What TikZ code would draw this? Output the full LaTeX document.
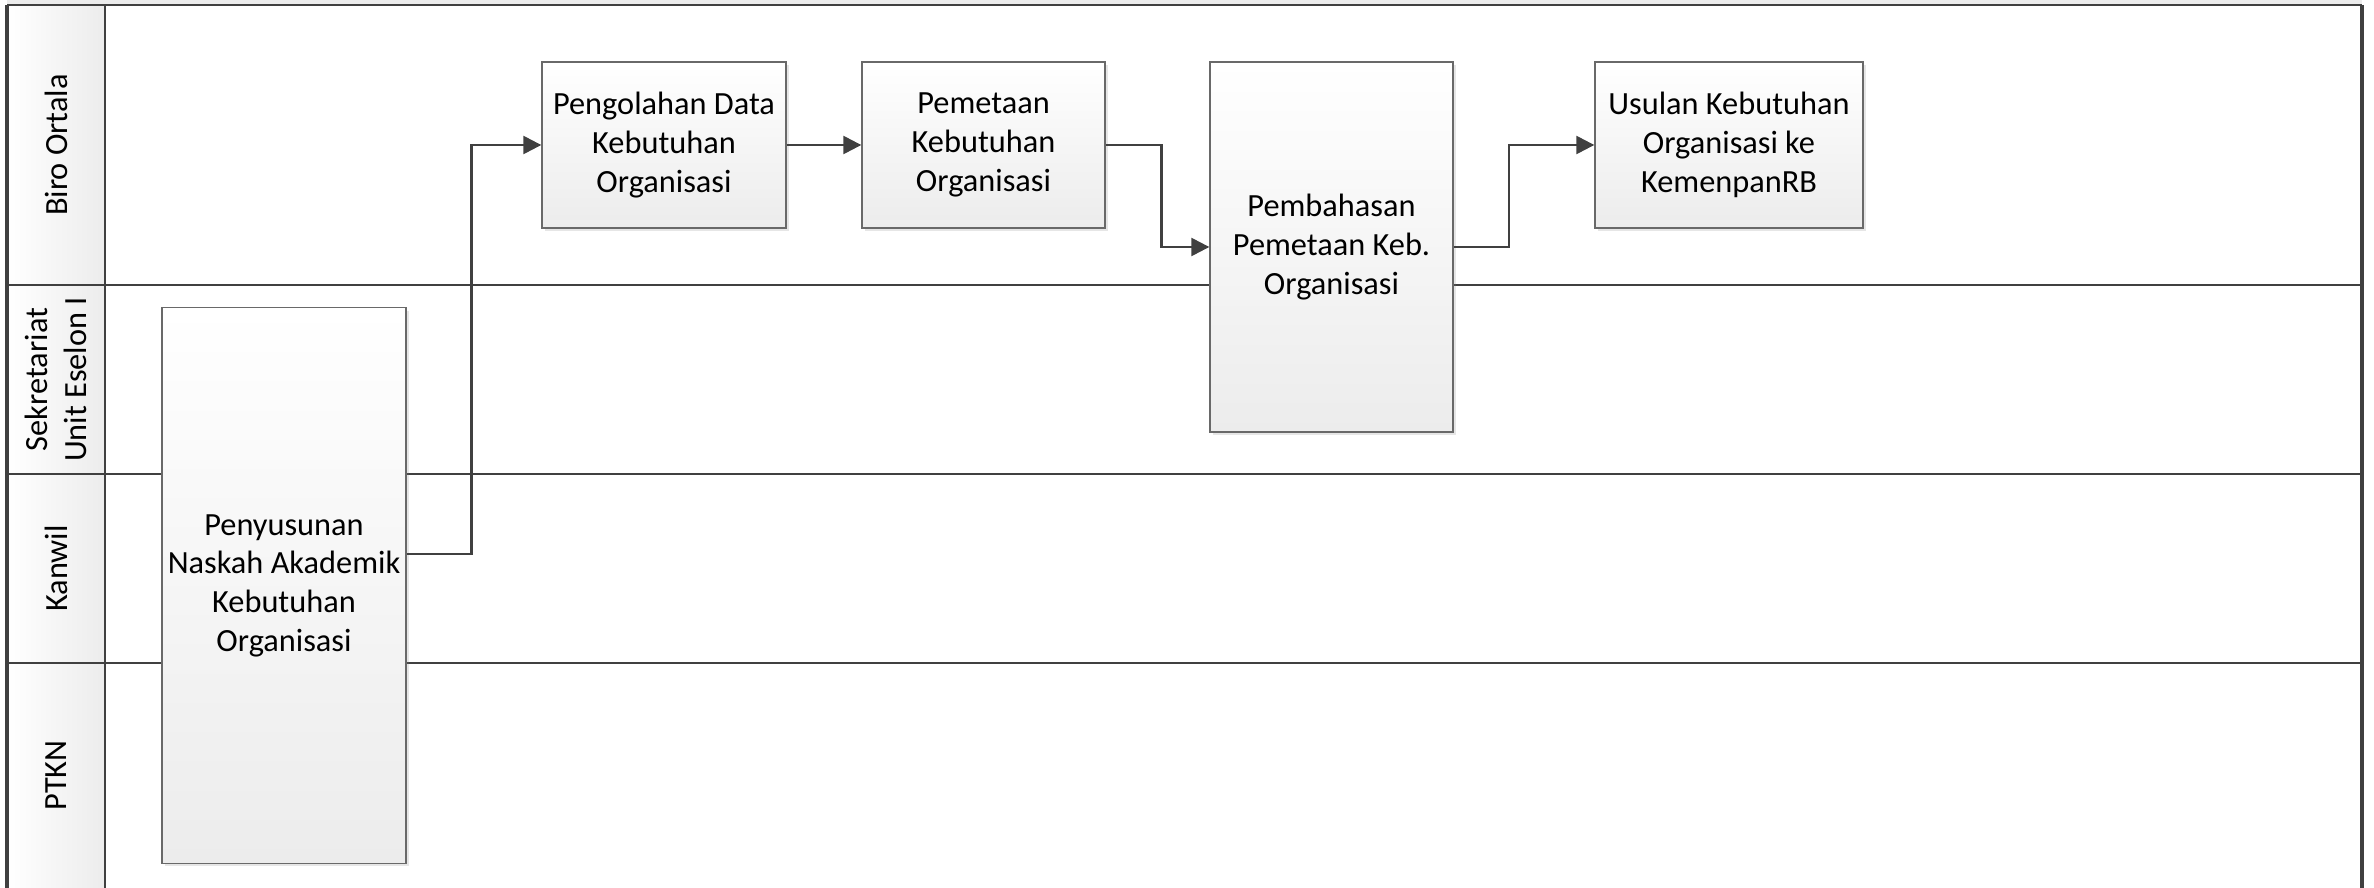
\documentclass[tikz,border=0pt]{standalone}
\usepackage{fontspec}
\setmainfont{Carlito}
\usetikzlibrary{arrows.meta,shadows}

\definecolor{linegray}{RGB}{64,64,64}
\definecolor{boxline}{RGB}{105,105,105}
\definecolor{boxbot}{RGB}{236,236,236}
\definecolor{hdrgray}{RGB}{236,236,236}

\newcommand*{\poolL}{7}
\newcommand*{\poolR}{2362}
\newcommand*{\hdrR}{105}
\newcommand*{\poolT}{5}
\newcommand*{\poolB}{888}

\begin{document}
\begin{tikzpicture}
[
	x=0.01cm,
	y=-0.01cm,
	every node/.style={font=\fontsize{9.2}{11}\selectfont},
	task/.style={draw=boxline,line width=0.35pt,top color=white,bottom color=boxbot,
	  align=center,inner sep=0pt,minimum width=2.44cm,minimum height=1.66cm,
	  drop shadow={shadow xshift=0.03cm,shadow yshift=-0.03cm,opacity=0.2}},
	lane/.style={rotate=90,align=center},
	flow/.style={draw=linegray,line width=0.7pt,-{Triangle[length=0.18cm,width=0.18cm]}}
]

	\useasboundingbox (0,0) rectangle (2374,888);

	% header fills
	\fill[hdrgray] (\poolL,0) rectangle (\poolR,\poolT);
	\shade[left color=white,right color=hdrgray] (\poolL,\poolT) rectangle (\hdrR,\poolB);

	% lanes
	\draw[linegray,line width=0.7pt]
	  (\poolL,\poolT) -- (\poolR,\poolT)
	  (\poolL,285) -- (\poolR,285)
	  (\poolL,474) -- (\poolR,474)
	  (\poolL,663) -- (\poolR,663)
	  (\hdrR,\poolT) -- (\hdrR,\poolB)
	;
	\draw[linegray,line width=0.9pt]
	  (\poolL,\poolT) -- (\poolL,\poolB)
	  (\poolR,\poolT) -- (\poolR,\poolB)
	;

	% lane labels
	\node[lane] (lblbiro) at (56,145) {Biro Ortala};
	\node[lane] (lblsekre) at (56,379.5) {Sekretariat\\Unit Eselon I};
	\node[lane] (lblkanwil) at (56,568.5) {Kanwil};
	\node[lane] (lblptkn) at (56,775.5) {PTKN};

	% tasks
	\node[task,minimum height=5.55cm] (nask) at (284,585.5)
	  {Penyusunan\\Naskah Akademik\\Kebutuhan\\Organisasi};
	\node[task] (olah) at (664,145) {Pengolahan Data\\Kebutuhan\\Organisasi};
	\node[task,minimum width=2.43cm] (peta) at (983.5,145) {Pemetaan\\Kebutuhan\\Organisasi};
	\node[task,minimum width=2.43cm,minimum height=3.7cm] (bahas) at (1331.5,247)
	  {Pembahasan\\Pemetaan Keb.\\Organisasi};
	\node[task,minimum width=2.68cm] (usul) at (1729,145)
	  {Usulan Kebutuhan\\Organisasi ke\\KemenpanRB};

	% flows
	\draw[flow] ([yshift=0.315cm]nask.east) -| ([xshift=-0.7cm]olah.west) -- (olah.west);
	\draw[flow] (olah) -- (peta);
	\draw[flow] (peta.east) -| ([xshift=-0.48cm]bahas.west) -- (bahas.west);
	\draw[flow] (bahas.east) -| ([xshift=-0.85cm]usul.west) -- (usul.west);

\end{tikzpicture}
\end{document}
